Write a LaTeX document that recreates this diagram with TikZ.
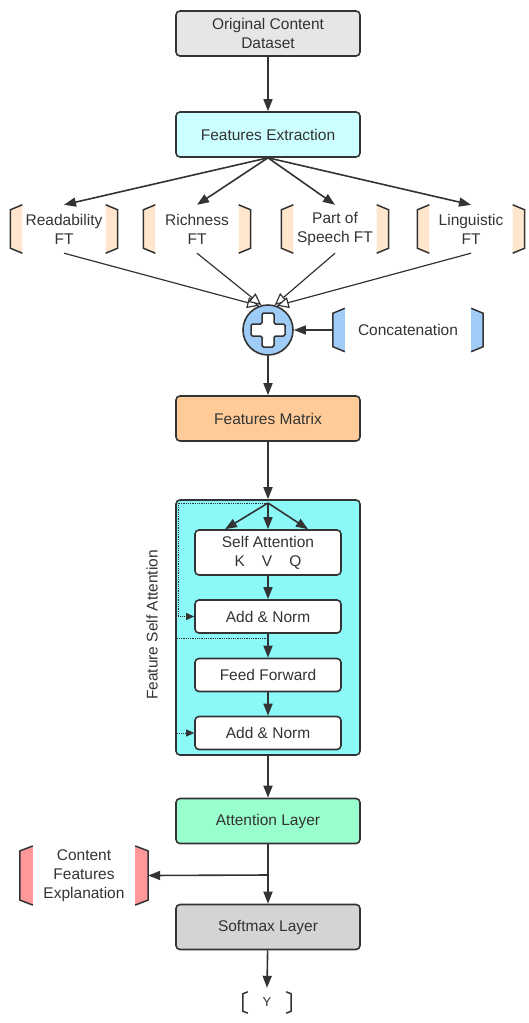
\documentclass[tikz,border=0pt]{standalone}
\usepackage{fontspec}
\setmainfont{Liberation Sans}
\usetikzlibrary{arrows.meta}

\definecolor{ink}{HTML}{333333}
\definecolor{greybox}{HTML}{E6E6E6}
\definecolor{paleaqua}{HTML}{CCFFFF}
\definecolor{peach}{HTML}{FFE6CC}
\definecolor{orange}{HTML}{FFCC99}
\definecolor{skyblue}{HTML}{9FCCF7}
\definecolor{aqua}{HTML}{8CF9F9}
\definecolor{mint}{HTML}{99FFCC}
\definecolor{softgrey}{HTML}{D4D4D4}
\definecolor{rose}{HTML}{FF9999}

\tikzset{
  box/.style={draw=ink, line width=1.6pt, rounded corners=4pt, minimum width=184pt,
    minimum height=45pt, align=center, text=ink, font=\fontsize{15.5}{19}\selectfont},
  sub/.style={box, fill=white, minimum width=146pt, minimum height=33pt},
  tag/.style={minimum width=107pt, minimum height=48pt, align=center, text=ink,
    font=\fontsize{15.5}{19}\selectfont},
  bar/.style={draw=ink, line width=1.5pt},
  link/.style={draw=ink, line width=1.6pt, -{Triangle[length=12pt,width=9pt]}},
  merge/.style={draw=ink, line width=1.2pt, -{Triangle[open,length=12pt,width=11pt,fill=white]}},
  skip/.style={draw=ink, line width=0.8pt, densely dotted, -{Triangle[length=8pt,width=7pt]}}
}

% #1 node, #2 fill, #3 bar width, #4 slant
\newcommand{\sidebars}[4]{%
  \filldraw[bar, fill=#2] ([xshift=#3]#1.north west) -- ([yshift=-#4]#1.north west)
    -- ([yshift=#4]#1.south west) -- ([xshift=#3]#1.south west);
  \filldraw[bar, fill=#2] ([xshift=-#3]#1.north east) -- ([yshift=-#4]#1.north east)
    -- ([yshift=#4]#1.south east) -- ([xshift=-#3]#1.south east);
}

\begin{document}
\begin{tikzpicture}[x=1pt, y=-1pt]

  \useasboundingbox (0,0) rectangle (529,1023);

  \node[box, fill=greybox] (data) at (268,33.5) {Original Content\\Dataset};
  \node[box, fill=paleaqua] (fe) at (268,134.5) {Features Extraction};

  \node[tag] (rd) at (64,229) {Readability\\FT};
  \node[tag] (rich) at (197,229) {Richness\\FT};
  \node[tag] (pos) at (335,229) {Part of\\Speech FT};
  \node[tag] (ling) at (471,229) {Linguistic\\FT};
  \sidebars{rd}{peach}{12pt}{5pt}
  \sidebars{rich}{peach}{12pt}{5pt}
  \sidebars{pos}{peach}{12pt}{5pt}
  \sidebars{ling}{peach}{12pt}{5pt}

  \node[circle, draw=ink, line width=1.6pt, fill=skyblue, minimum size=50pt] (plus) at (268,330) {};
  \filldraw[draw=ink, fill=white, line width=1.5pt, rounded corners=1.5pt, shift={(plus.center)}]
    (-6,-17) -- (6,-17) -- (6,-6) -- (17,-6) -- (17,6) -- (6,6) -- (6,17) -- (-6,17)
    -- (-6,6) -- (-17,6) -- (-17,-6) -- (-6,-6) -- cycle;

  \node[tag, minimum width=150pt, minimum height=43pt] (cat) at (408,330) {Concatenation};
  \sidebars{cat}{skyblue}{12pt}{5pt}

  \node[box, fill=orange] (fm) at (268,418.5) {Features Matrix};

  \node[box, fill=aqua, minimum height=255pt] (fsa) at (268,627.5) {};
  \node[rotate=90, text=ink, font=\fontsize{15.5}{19}\selectfont] (fsalabel) at (152,625) {Feature Self Attention};
  \coordinate (split) at (268,503);
  \node[sub, minimum height=45pt] (sa) at (268,552.5) {Self Attention\\K\hspace{17pt}V\hspace{17pt}Q};
  \node[sub] (an1) at (268,616.5) {Add \& Norm};
  \node[sub] (ff) at (268,675) {Feed Forward};
  \node[sub] (an2) at (268,733) {Add \& Norm};
  \coordinate (res) at ([yshift=-5pt]an1.south);

  \node[box, fill=mint] (att) at (268,821) {Attention Layer};
  \coordinate (tap) at (268,875);
  \node[tag, minimum width=128pt, minimum height=50pt] (cfe) at (84,875.5) {Content\\Features\\Explanation};
  \sidebars{cfe}{rose}{13pt}{5pt}

  \node[box, fill=softgrey] (sm) at (268,927) {Softmax Layer};

  \node[tag, minimum width=48pt, minimum height=21pt, font=\fontsize{13}{15}\selectfont] (out) at (267,1002.5) {Y};
  \sidebars{out}{white}{5pt}{2pt}

  \draw[link] (data) -- (fe);
  \draw[link] (fe.south) -- (rd.north);
  \draw[link] (fe.south) -- (rich.north);
  \draw[link] (fe.south) -- (pos.north);
  \draw[link] (fe.south) -- (ling.north);

  \draw[merge] (rd.south) -- (plus.110);
  \draw[merge] (rich.south) -- (plus.105);
  \draw[merge] (pos.south) -- (plus.75);
  \draw[merge] (ling.south) -- (plus.70);
  \draw[link] (cat.west) -- (plus.east);
  \draw[link] (plus) -- (fm);

  \draw[link] (fm) -- (fsa.north);
  \draw[link] (split) -- ([xshift=-43pt]sa.north);
  \draw[link] (split) -- (sa.north);
  \draw[link] (split) -- ([xshift=40pt]sa.north);
  \draw[link] (sa) -- (an1);
  \draw[link] (an1) -- (ff);
  \draw[link] (ff) -- (an2);
  \draw[skip] (split) -| ([xshift=-16pt]an1.west) -- (an1.west);
  \draw[skip] (res) -| ([xshift=-18pt]an2.west) -- (an2.west);

  \draw[link] (fsa.south) -- (att.north);
  \draw[link] (att) -- (sm);
  \draw[link] (tap) -- (cfe.east);
  \draw[link] (sm) -- ([yshift=4pt]out.north);

\end{tikzpicture}
\end{document}
